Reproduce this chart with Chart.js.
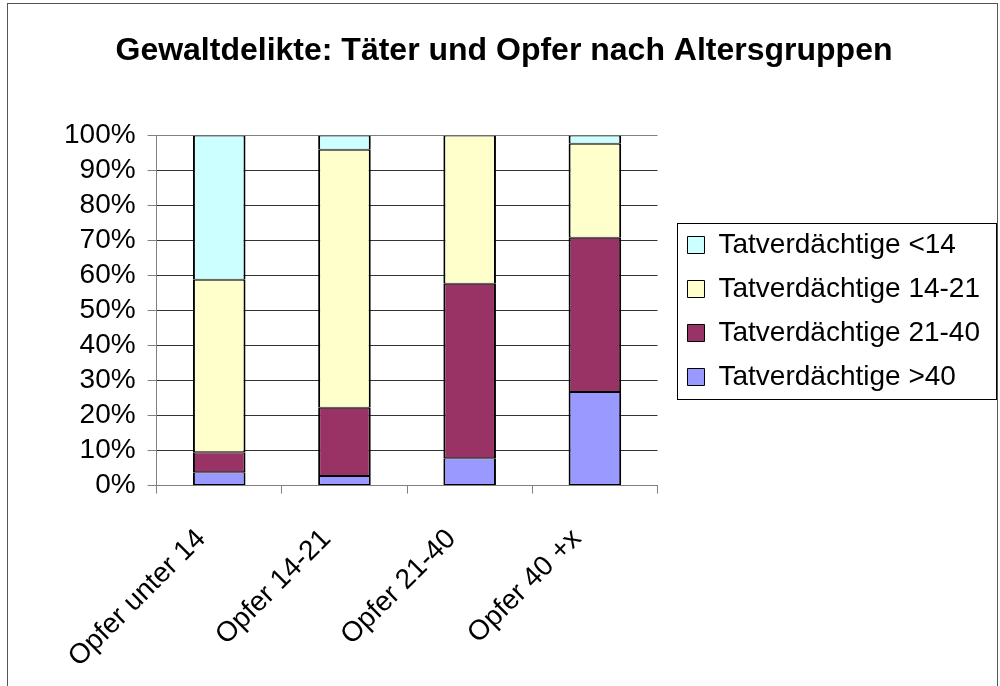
<!DOCTYPE html>
<html>
<head>
<meta charset="utf-8">
<title>Gewaltdelikte</title>
<script src="https://cdn.jsdelivr.net/npm/chart.js@4"></script>
<style>
  html, body { margin: 0; padding: 0; background: #fff; }
  #wrap { width: 1000px; height: 686px; }
</style>
</head>
<body>
<div id="wrap"><canvas id="myChart" width="1000" height="686"></canvas></div>
<script>
'use strict';

// data (percent of each victim group)
const categories = ['Opfer unter 14', 'Opfer 14-21', 'Opfer 21-40', 'Opfer 40 +x'];
const seriesNames = ['Tatverdächtige >40', 'Tatverdächtige 21-40', 'Tatverdächtige 14-21', 'Tatverdächtige <14'];
const over40 = [3.8, 2.7, 7.8, 26.7];
const from21to40 = [5.7, 19.5, 49.8, 44.1];
const from14to21 = [49.3, 73.7, 42.4, 26.8];
const under14 = [41.2, 4.1, 0, 2.4];
const yTicks = [0, 10, 20, 30, 40, 50, 60, 70, 80, 90, 100];

const colors = ['#9999FF', '#993366', '#FFFFCC', '#CCFFFF'];
const font = 'Liberation Sans, Arial, sans-serif';

let values = [over40, from21to40, from14to21, under14];
let datasets = [];
for (let i = 0; i < values.length; i++) {
  datasets.push({
    label: seriesNames[i],
    data: values[i],
    backgroundColor: colors[i],
    borderColor: '#000',
    borderWidth: { top: 1, bottom: 1, left: 2, right: 2 },
    borderSkipped: false,
    barPercentage: 0.42,
    categoryPercentage: 1
  });
}

// nudges the legend and title, draws the frame and the legend box
const frames = {
  id: 'frames',
  afterLayout(chart) {
    const lg = chart.legend;
    lg.left += 14;
    lg.right += 14;
    lg.top -= 32;
    lg.bottom -= 32;
    chart.titleBlock.right -= 20;
  },
  afterDraw(chart) {
    const ctx = chart.ctx;
    const lg = chart.legend;
    const pad = lg.options.labels.padding;
    const colH = lg.columnSizes[0].height;
    const y0 = (lg.top + pad + lg.bottom - colH) / 2;
    const x0 = Math.round(lg.left + pad - 10);
    ctx.save();
    ctx.lineWidth = 1;
    ctx.strokeStyle = '#000';
    ctx.strokeRect(x0 + 0.5, Math.round(y0 - 8) + 0.5,
      chart.width - 4 - x0, Math.round(colH - pad + 16));
    ctx.strokeStyle = '#555';
    ctx.strokeRect(7.5, 3.5, chart.width - 10, chart.height + 10);
    ctx.restore();
  }
};

const ctx = document.getElementById('myChart').getContext('2d');
const myChart = new Chart(ctx, {
  type: 'bar',
  data: {
    labels: categories,
    datasets: datasets
  },
  plugins: [frames],
  options: {
    responsive: false,
    animation: false,
    layout: {
      padding: { left: 52, right: 24, top: 0, bottom: 0 }
    },
    plugins: {
      title: {
        display: true,
        text: 'Gewaltdelikte: Täter und Opfer nach Altersgruppen',
        color: '#000',
        font: { family: font, size: 32, weight: 'bold' },
        padding: { top: 32, bottom: 65 }
      },
      legend: {
        position: 'right',
        reverse: true,
        maxWidth: 420,
        labels: {
          color: '#000',
          font: { family: font, size: 28 },
          boxWidth: 17,
          boxHeight: 17,
          padding: 16,
          generateLabels(chart) {
            const items = Chart.defaults.plugins.legend.labels.generateLabels(chart);
            items.forEach(it => { it.lineWidth = 1; });
            return items;
          }
        }
      },
      tooltip: { enabled: false }
    },
    scales: {
      x: {
        stacked: true,
        afterFit(scale) {
          scale.height -= 17;
        },
        grid: {
          color: c => (c.index === categories.length ? '#808080' : 'rgba(0,0,0,0)'),
          tickColor: '#808080',
          tickLength: 8
        },
        border: { color: '#808080', width: 1 },
        ticks: {
          color: '#000',
          font: { family: font, size: 28 },
          minRotation: 45,
          maxRotation: 45,
          labelOffset: -18,
          padding: 29
        }
      },
      y: {
        stacked: true,
        min: 0,
        max: 100,
        afterBuildTicks(scale) {
          scale.ticks = yTicks.map(v => ({ value: v }));
        },
        grid: {
          color: c => (c.tick && c.tick.value === 100 ? '#808080' : '#333'),
          tickColor: '#808080',
          tickLength: 9
        },
        border: { color: '#808080', width: 1 },
        ticks: {
          color: '#000',
          font: { family: font, size: 28 },
          padding: 12,
          autoSkip: false,
          callback: v => v + '%'
        }
      }
    }
  }
});
</script>
</body>
</html>
